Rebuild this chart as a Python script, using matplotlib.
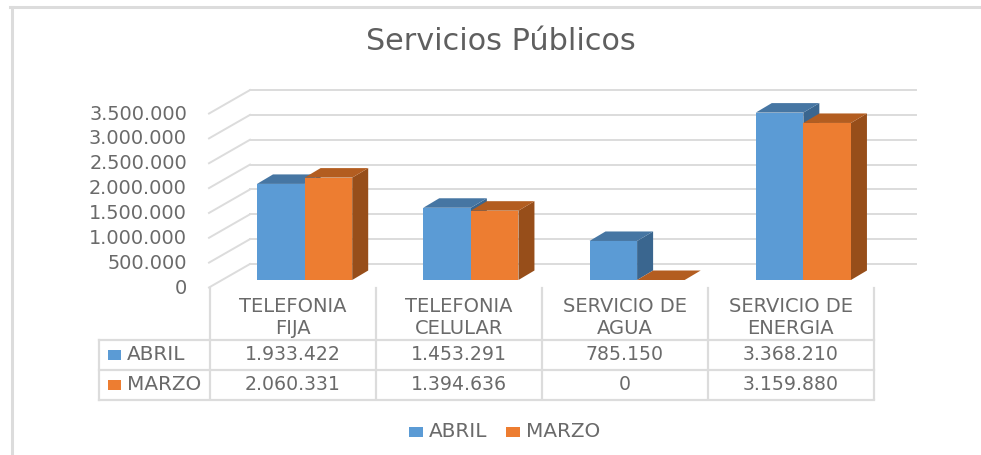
import matplotlib
matplotlib.use("Agg")
import matplotlib.pyplot as plt
from matplotlib.transforms import Affine2D
from matplotlib.patches import Rectangle

categories = ["TELEFONIA\nFIJA", "TELEFONIA\nCELULAR", "SERVICIO DE\nAGUA", "SERVICIO DE\nENERGIA"]
abril = [1933422, 1453291, 785150, 3368210]
marzo = [2060331, 1394636, 0, 3159880]
ticks = [0, 500000, 1000000, 1500000, 2000000, 2500000, 3000000, 3500000]
title = "Servicios Públicos"

W, H = 981, 455
GRAY = "#dcdcdc"
TXT = "#6a6a6a"
BLUE, BLUE_TOP, BLUE_SIDE = "#5b9bd5", "#4676a3", "#3a668f"
ORANGE, ORANGE_TOP, ORANGE_SIDE = "#ed7d31", "#b35d20", "#974e1a"

# one category = 166.25 px, one unit = 49.7 px per million, x=0 at px 210, y=0 at px 280
CW = 166.25
VS = 49.7e-6
def dx(p):
    return p / CW
def dy(p):
    return p / VS
def fmt(v):
    return f"{v:,}".replace(",", ".")

fig = plt.figure(figsize=(W / 100, H / 100), dpi=100)
ax = fig.add_axes([0, 0, 1, 1])
ax.set_xlim(-210 / CW, (W - 210) / CW)
ax.set_ylim((280 - H) / VS, 280 / VS)
ax.axis("off")
# pixel coords for the table and frame
px = Affine2D().scale(1 / W, -1 / H).translate(0, 1) + fig.transFigure

# outer frame
ax.plot([11.5, 11.5], [7, H], color=GRAY, lw=2.2, transform=px, clip_on=False)
ax.plot([10, W], [7, 7], color=GRAY, lw=2.2, transform=px, clip_on=False)

ax.text(500.5, 42, title, transform=px, ha="center", va="center", fontsize=21.8, color="#5f5f5f")

# walls
for t in ticks:
    yb = t + dy(16)
    ax.plot([dx(40), dx(706)], [yb, yb], color=GRAY, lw=1.4, zorder=1)
    ax.plot([dx(-1), dx(40)], [t - dy(7.5), yb], color=GRAY, lw=1.4, zorder=1)
    ax.text(dx(-23), t - dy(8), fmt(t), ha="right", va="center", fontsize=13.9, color=TXT)

# bars
bw = 47.6 / CW
off = 47 / CW
ddx, ddy = dx(16), dy(9.5)
z = 3
for i in range(len(categories)):
    for k, (vals, c, ct, cs) in enumerate([(abril, BLUE, BLUE_TOP, BLUE_SIDE),
                                           (marzo, ORANGE, ORANGE_TOP, ORANGE_SIDE)]):
        v = vals[i]
        x0 = i + off + k * bw
        x1 = x0 + bw
        ax.fill([x1, x1 + ddx, x1 + ddx, x1], [0, ddy, v + ddy, v], color=cs, lw=0, zorder=z)
        ax.fill([x0, x1, x1 + ddx, x0 + ddx], [v, v, v + ddy, v + ddy], color=ct, lw=0, zorder=z)
        ax.bar(x0, v, bw, align="edge", color=c, lw=0, zorder=z + 0.5)
        z += 1

# data table
col_x = [210, 375.6, 541.6, 707.7, 873.5]
for x in col_x:
    ax.plot([x, x], [288, 399], color=GRAY, lw=1.6, transform=px, clip_on=False)
for y in [339.5, 369.5, 399.5]:
    ax.plot([98.5, 873.5], [y, y], color=GRAY, lw=1.6, transform=px, clip_on=False)
ax.plot([98.5, 98.5], [339.5, 399.5], color=GRAY, lw=1.6, transform=px, clip_on=False)

for i, name in enumerate(categories):
    cx = (col_x[i] + col_x[i + 1]) / 2
    l1, l2 = name.split("\n")
    ax.text(cx, 306, l1, transform=px, ha="center", va="center", fontsize=14, color=TXT)
    ax.text(cx, 328, l2, transform=px, ha="center", va="center", fontsize=14, color=TXT)
    ax.text(cx, 354.5, fmt(abril[i]), transform=px, ha="center", va="center", fontsize=13.6, color=TXT)
    ax.text(cx, 384.5, fmt(marzo[i]), transform=px, ha="center", va="center", fontsize=13.6, color=TXT)

for y, name, c in [(354.5, "ABRIL", BLUE), (384.5, "MARZO", ORANGE)]:
    ax.add_patch(Rectangle((108, y - 5), 13, 10, color=c, lw=0, transform=px))
    ax.text(127, y, name, transform=px, ha="left", va="center", fontsize=14.4, color=TXT)

# legend
for x, name, c in [(409, "ABRIL", BLUE), (506, "MARZO", ORANGE)]:
    ax.add_patch(Rectangle((x, 427), 14, 10, color=c, lw=0, transform=px))
    ax.text(x + 20, 431.5, name, transform=px, ha="left", va="center", fontsize=14.4, color=TXT)

fig.savefig("out.png", dpi=100)
